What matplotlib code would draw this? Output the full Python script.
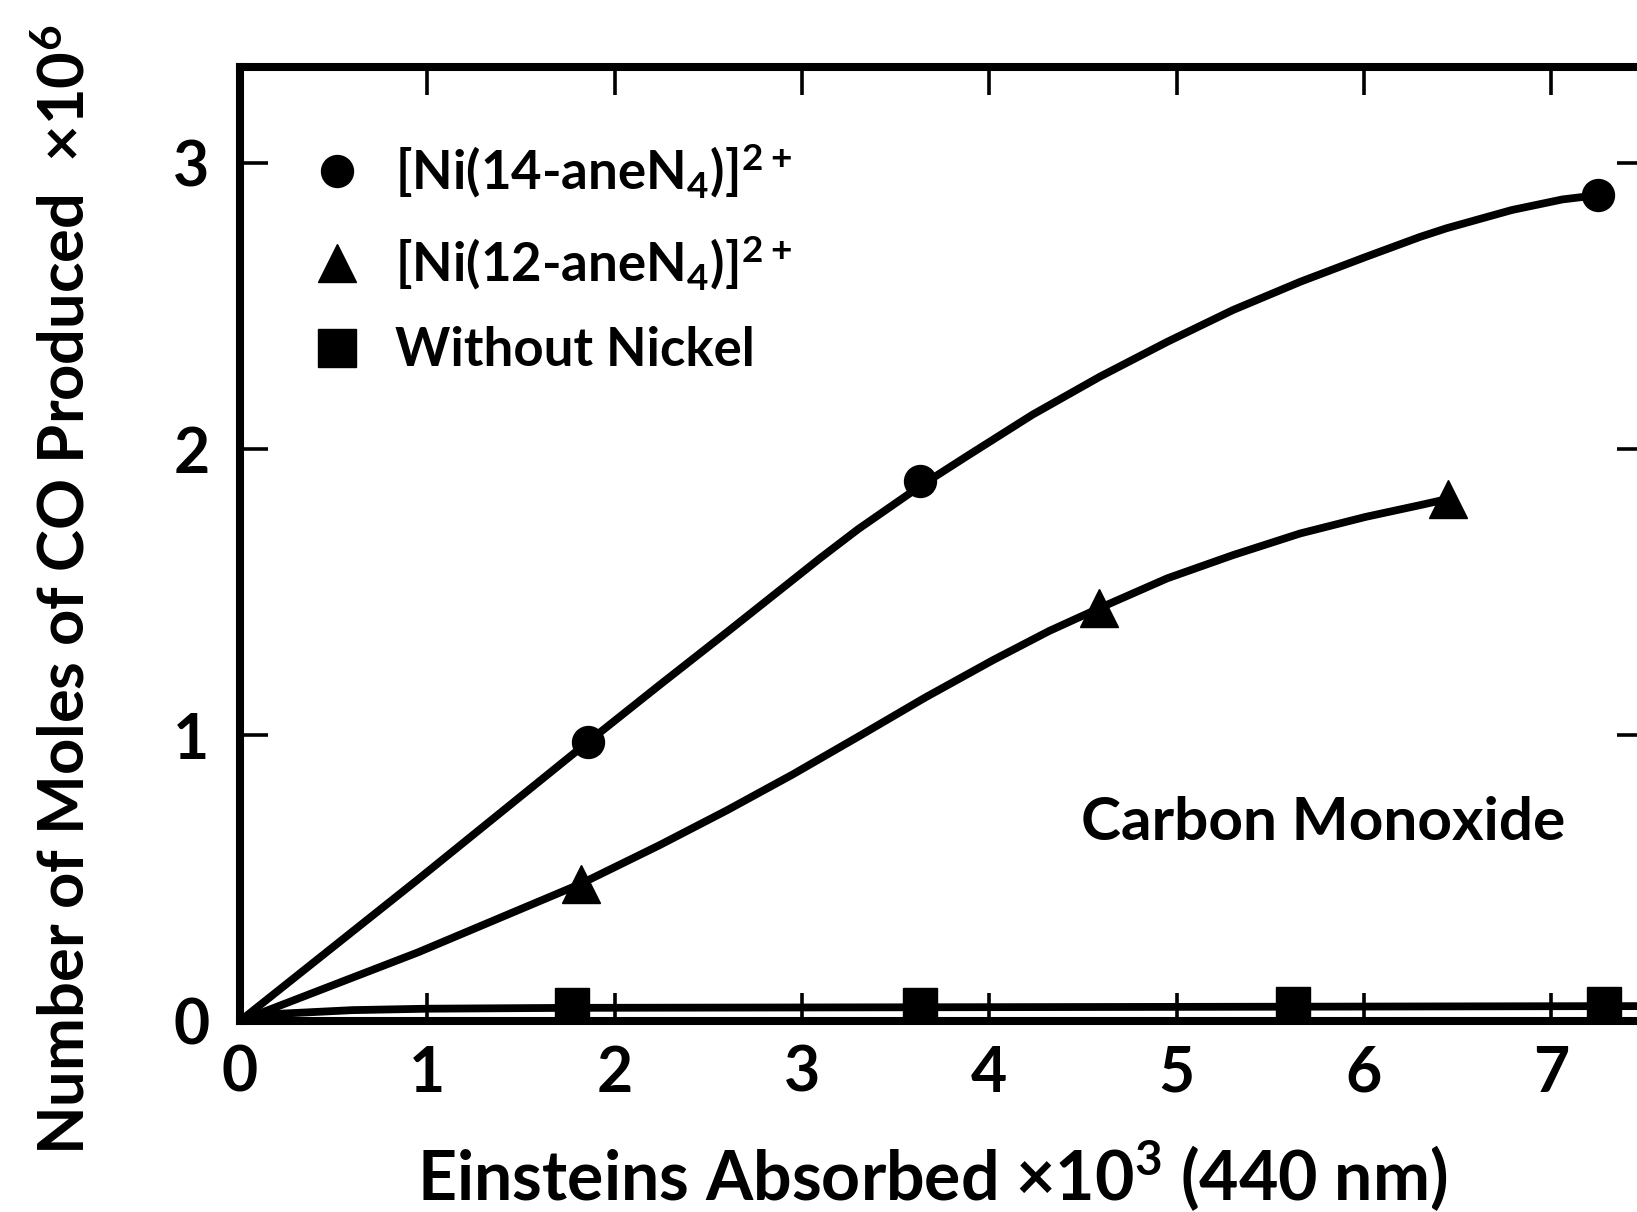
import matplotlib
matplotlib.use("Agg")
import matplotlib.pyplot as plt
from matplotlib.lines import Line2D

# values
# x: einsteins absorbed (x10^3), y: moles of CO produced (x10^6)
ni14_x = [1.86, 3.63, 7.25]
ni14_y = [0.977, 1.89, 2.888]
ni12_x = [1.82, 4.585, 6.45]
ni12_y = [0.48, 1.443, 1.826]
blank_x = [1.77, 3.63, 5.62, 7.28]
blank_y = [0.055, 0.055, 0.058, 0.06]

# the hand drawn curves
ni14_curve_x = [0, 0.95, 1.86, 2.24, 2.60, 3.10, 3.30, 3.63, 3.88, 4.23, 4.59,
                4.95, 5.30, 5.66, 6.01, 6.30, 6.44, 6.79, 7.06, 7.25]
ni14_curve_y = [0, 0.495, 0.977, 1.175, 1.36, 1.62, 1.72, 1.87, 1.975, 2.12,
                2.253, 2.375, 2.486, 2.585, 2.672, 2.742, 2.772, 2.836, 2.873, 2.888]
ni12_curve_x = [0, 0.95, 1.82, 2.24, 2.60, 2.95, 3.31, 3.66, 4.02, 4.32, 4.585,
                4.95, 5.30, 5.66, 6.01, 6.30, 6.45]
ni12_curve_y = [0, 0.24, 0.48, 0.615, 0.737, 0.862, 0.998, 1.132, 1.262, 1.364,
                1.443, 1.548, 1.629, 1.705, 1.763, 1.804, 1.826]
blank_curve_x = [0, 0.2, 0.6, 1.0, 1.77, 3.63, 5.62, 7.28, 7.6]
blank_curve_y = [0, 0.025, 0.038, 0.043, 0.046, 0.048, 0.05, 0.052, 0.052]

x_ticks = [0, 1, 2, 3, 4, 5, 6, 7]
y_ticks = [0, 1, 2, 3]

labels = [r"[Ni(14-aneN$_4$)]$^{2+}$", r"[Ni(12-aneN$_4$)]$^{2+}$", "Without Nickel"]

plt.rcParams["font.family"] = ["Lato", "DejaVu Sans"]
plt.rcParams["font.weight"] = "bold"
plt.rcParams["mathtext.default"] = "regular"

fig = plt.figure(figsize=(16.37, 12.12), dpi=100)
# right spine sits just outside the picture, as in the scan
ax = fig.add_axes([240 / 1637, 191 / 1212, 1405 / 1637, 954 / 1212])

lw = 5.6
for cx, cy in [(ni14_curve_x, ni14_curve_y), (ni12_curve_x, ni12_curve_y),
               (blank_curve_x, blank_curve_y)]:
    ax.plot(cx, cy, color="black", lw=lw, solid_capstyle="round",
            solid_joinstyle="round")

ax.plot(ni14_x, ni14_y, "o", color="black", ms=23)
ax.plot(ni12_x, ni12_y, "^", color="black", ms=27)
ax.plot(blank_x, blank_y, "s", color="black", ms=25)

ax.set_xlim(0, 7.5)
ax.set_ylim(0, 3.336)
ax.set_xticks(x_ticks)
ax.set_yticks(y_ticks)
for s in ax.spines.values():
    s.set_linewidth(5.8)

ax.tick_params(direction="in", length=20, width=2.6, top=True, right=True,
               labelsize=45)
ax.tick_params(axis="x", pad=17)
ax.tick_params(axis="y", pad=22)

handles = [
    Line2D([], [], ls="none", marker="o", color="black", ms=23),
    Line2D([], [], ls="none", marker="^", color="black", ms=28),
    Line2D([], [], ls="none", marker="s", color="black", ms=27),
]
ax.legend(handles, labels, loc="upper left", bbox_to_anchor=(0.052, 0.9227),
          frameon=False, fontsize=38, handlelength=0.9, handletextpad=0.65,
          labelspacing=0.64, borderpad=0, borderaxespad=0)

ax.text(4.49, 0.633, "Carbon Monoxide", fontsize=43.5, va="baseline")

fig.text(66 / 1637, 1 - 590 / 1212, r"Number of Moles of CO Produced  $\times$10$^6$",
         rotation=90, ha="center", va="center", fontsize=45.5)
fig.text(932 / 1637, 1 - 1201 / 1212, r"Einsteins Absorbed $\times$10$^3$ (440 nm)",
         ha="center", va="baseline", fontsize=49)

fig.savefig("out.png", dpi=100)
